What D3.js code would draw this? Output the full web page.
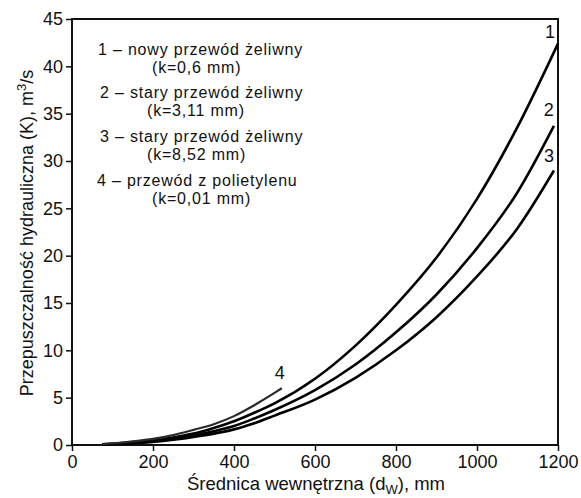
<!DOCTYPE html>
<html>
<head>
<meta charset="utf-8">
<script src="https://cdn.jsdelivr.net/npm/d3@7"></script>
<style>
  body { margin: 0; background: #fff; }
  text { font-family: "Liberation Sans", Arial, sans-serif; fill: #111; }
</style>
</head>
<body>
<div id="chart"></div>
<script>
// średnice (mm) i przepuszczalność (m3/s)
var diam = [75, 100, 150, 200, 250, 300, 350, 400, 450, 500, 600, 700, 800, 900, 1000, 1100, 1200];
var diam23 = [75, 100, 150, 200, 250, 300, 350, 400, 450, 500, 600, 700, 800, 900, 1000, 1100, 1190];
var diam4 = [75, 100, 150, 200, 250, 300, 350, 400, 450, 500, 518];

var k1 = [0.08, 0.13, 0.3, 0.5, 0.8, 1.2, 1.8, 2.5, 3.4, 4.4, 7.0, 10.5, 14.8, 19.8, 26.0, 33.6, 42.4];
var k2 = [0.06, 0.1, 0.24, 0.4, 0.65, 1.0, 1.45, 2.0, 2.8, 3.7, 5.8, 8.5, 11.9, 15.9, 20.8, 26.7, 33.7];
var k3 = [0.05, 0.08, 0.2, 0.33, 0.55, 0.85, 1.2, 1.65, 2.3, 3.1, 4.8, 7.1, 10.0, 13.5, 17.8, 22.9, 29.0];
var k4 = [0.1, 0.17, 0.38, 0.65, 1.05, 1.6, 2.2, 3.05, 4.2, 5.5, 6.0];

var xTicks = [0, 200, 400, 600, 800, 1000, 1200];
var yTicks = [0, 5, 10, 15, 20, 25, 30, 35, 40, 45];

var legendLines = [
  ["1 – nowy przewód żeliwny", "(k=0,6 mm)"],
  ["2 – stary przewód żeliwny", "(k=3,11 mm)"],
  ["3 – stary przewód żeliwny", "(k=8,52 mm)"],
  ["4 – przewód z polietylenu", "(k=0,01 mm)"]
];

const width = 581, height = 498;
const margin = {left: 72, top: 19, right: 23, bottom: 53};
const w = width - margin.left - margin.right;
const h = height - margin.top - margin.bottom;

const svg = d3.select("#chart").append("svg")
  .attr("width", width)
  .attr("height", height);

const g = svg.append("g")
  .attr("transform", "translate(" + margin.left + "," + margin.top + ")");

const x = d3.scaleLinear().domain([0, 1200]).range([0, w]);
const y = d3.scaleLinear().domain([0, 45]).range([h, 0]);

// axes
const xAxis = d3.axisBottom(x).tickValues(xTicks).tickSize(6).tickPadding(4).tickFormat(d3.format("d"));
const yAxis = d3.axisLeft(y).tickValues(yTicks).tickSize(6).tickPadding(3);

const gx = g.append("g").attr("transform", "translate(0," + h + ")").call(xAxis);
const gy = g.append("g").call(yAxis);
[gx, gy].forEach(function(a) {
  a.select(".domain").remove();
  a.selectAll("line").attr("stroke", "#111").attr("stroke-width", 1.5);
  a.selectAll("text").style("font-size", "18px").attr("fill", "#111");
});

// frame
g.append("rect")
  .attr("x", 0).attr("y", 0)
  .attr("width", w).attr("height", h)
  .attr("fill", "none")
  .attr("stroke", "#111")
  .attr("stroke-width", 2);

// curves
const line = d3.line()
  .x(function(d) { return x(d[0]); })
  .y(function(d) { return y(d[1]); })
  .curve(d3.curveMonotoneX);

function pairs(xs, ys) { return xs.map(function(v, i) { return [v, ys[i]]; }); }

var series = [
  {data: pairs(diam, k1), color: "#000", sw: 2.6},
  {data: pairs(diam23, k2), color: "#000", sw: 2.6},
  {data: pairs(diam23, k3), color: "#000", sw: 2.6},
  {data: pairs(diam4, k4), color: "#2a2a2a", sw: 2.2}
];

g.selectAll("path.curve")
  .data(series)
  .enter()
  .append("path")
  .attr("class", "curve")
  .attr("d", function(d) { return line(d.data); })
  .attr("fill", "none")
  .attr("stroke", function(d) { return d.color; })
  .attr("stroke-width", function(d) { return d.sw; })
  .attr("stroke-linejoin", "round");

// curve numbers
var nums = [
  {t: "1", d: 1180, v: 43.0},
  {t: "2", d: 1177, v: 34.8},
  {t: "3", d: 1178, v: 29.9},
  {t: "4", d: 513, v: 7.0}
];
g.selectAll("text.num")
  .data(nums)
  .enter()
  .append("text")
  .attr("class", "num")
  .attr("x", function(d) { return x(d.d); })
  .attr("y", function(d) { return y(d.v); })
  .attr("text-anchor", "middle")
  .style("font-size", "18px")
  .attr("fill", "#333")
  .text(function(d) { return d.t; });

// legend
var legX = [[26, 80], [28, 75], [28, 75], [25, 80]];
var legY = [[36, 54], [79, 97], [123, 141], [167, 185]];
legendLines.forEach(function(l, i) {
  g.append("text")
    .attr("x", legX[i][0]).attr("y", legY[i][0])
    .style("font-size", "16px")
    .style("letter-spacing", "0.8px")
    .text(l[0]);
  g.append("text")
    .attr("x", legX[i][1]).attr("y", legY[i][1])
    .style("font-size", "16px")
    .style("letter-spacing", "0.8px")
    .text(l[1]);
});

// axis titles
const xt = svg.append("text")
  .attr("x", 316)
  .attr("y", 490)
  .attr("text-anchor", "middle")
  .style("font-size", "18.5px");
xt.append("tspan").text("Średnica wewnętrzna (d");
xt.append("tspan").attr("dy", 4).style("font-size", "13px").text("W");
xt.append("tspan").attr("dy", -4).text("), mm");

const yt = svg.append("text")
  .attr("transform", "translate(33," + 233 + ") rotate(-90)")
  .attr("text-anchor", "middle")
  .style("font-size", "18px");
yt.append("tspan").text("Przepuszczalność hydrauliczna (K), m");
yt.append("tspan").attr("dy", -7).style("font-size", "13px").text("3");
yt.append("tspan").attr("dy", 7).text("/s");
</script>
</body>
</html>
